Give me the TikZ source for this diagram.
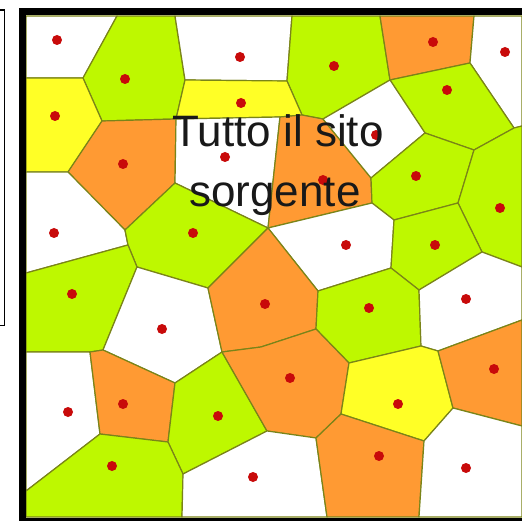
\documentclass[tikz,border=0pt]{standalone}
\usepackage{fontspec}
\newfontfamily\labelfont{Liberation Sans}
\definecolor{cellgreen}{HTML}{BEF800}
\definecolor{cellorange}{HTML}{FF9A33}
\definecolor{cellyellow}{HTML}{FFFF26}
\definecolor{sitered}{HTML}{C80A0A}
\definecolor{edgeline}{HTML}{7A8418}

\begin{document}
\begin{tikzpicture}[
    x=1pt, y=-1pt,
    cell/.style={draw=edgeline, line width=1.2pt, line join=round},
    gcell/.style={cell, fill=cellgreen},
    ocell/.style={cell, fill=cellorange},
    ycell/.style={cell, fill=cellyellow},
    wcell/.style={cell, fill=white},
    site/.style={circle, fill=sitered, minimum size=10pt, inner sep=0pt},
    caption/.style={font=\labelfont\fontsize{44}{50}\selectfont, text=black!90, anchor=base},
]

\useasboundingbox (0,0) rectangle (522,521);

% ── top row ──
\draw[wcell] (26,16) -- (117,16) -- (83,78) -- (26,78) -- cycle;
\draw[gcell] (117,16) -- (175,16) -- (185,80) -- (176,119) -- (102,121) -- (83,78) -- cycle;
\draw[wcell] (175,16) -- (292,16) -- (287,81) -- (185,80) -- cycle;
\draw[gcell] (292,16) -- (380,16) -- (390,80) -- (323,119) -- (302,115) -- (287,81) -- cycle;
\draw[ocell] (380,16) -- (474,16) -- (470,63) -- (390,80) -- cycle;
\draw[wcell] (474,16) -- (522,16) -- (522,126) -- (514,128) -- (470,63) -- cycle;

% ── upper middle ──
\draw[ycell] (26,78) -- (83,78) -- (102,121) -- (68,172) -- (26,172) -- cycle;
\draw[ycell] (185,80) -- (287,81) -- (302,115) -- (280,117) -- (176,119) -- cycle;
\draw[gcell] (390,80) -- (470,63) -- (514,128) -- (474,150) -- (425,133) -- cycle;
\draw[ocell] (102,121) -- (176,119) -- (175,183) -- (125,230) -- (68,172) -- cycle;
\draw[wcell] (176,119) -- (280,117) -- (268,228) -- (175,183) -- cycle;
\draw[ocell] (280,117) -- (302,115) -- (323,119) -- (371,178) -- (372,203) -- (268,228) -- cycle;
\draw[wcell] (323,119) -- (390,80) -- (425,133) -- (371,178) -- cycle;
\draw[gcell] (371,178) -- (425,133) -- (474,150) -- (458,203) -- (394,220) -- (372,203) -- cycle;
\draw[gcell] (474,150) -- (514,128) -- (522,126) -- (522,267) -- (482,252) -- (458,203) -- cycle;

% ── middle ──
\draw[wcell] (26,172) -- (68,172) -- (125,230) -- (128,245) -- (26,273) -- cycle;
\draw[gcell] (125,230) -- (175,183) -- (268,228) -- (208,288) -- (137,267) -- (128,245) -- cycle;
\draw[wcell] (268,228) -- (372,203) -- (394,220) -- (391,268) -- (318,291) -- cycle;
\draw[gcell] (394,220) -- (458,203) -- (482,252) -- (419,290) -- (391,268) -- cycle;
\draw[gcell] (26,273) -- (128,245) -- (137,267) -- (103,350) -- (90,352) -- (26,352) -- cycle;
\draw[wcell] (137,267) -- (208,288) -- (222,352) -- (175,383) -- (103,350) -- cycle;
\draw[ocell] (208,288) -- (268,228) -- (318,291) -- (316,329) -- (261,347) -- (222,352) -- cycle;
\draw[gcell] (318,291) -- (391,268) -- (419,290) -- (421,346) -- (349,363) -- (316,329) -- cycle;
\draw[wcell] (419,290) -- (482,252) -- (522,267) -- (522,320) -- (438,351) -- (421,346) -- cycle;

% ── bottom rows ──
\draw[wcell] (26,352) -- (90,352) -- (100,434) -- (26,491) -- cycle;
\draw[ocell] (90,352) -- (103,350) -- (175,383) -- (168,442) -- (100,434) -- cycle;
\draw[gcell] (175,383) -- (222,352) -- (267,431) -- (183,474) -- (168,442) -- cycle;
\draw[ocell] (222,352) -- (261,347) -- (316,329) -- (349,363) -- (341,414) -- (316,438) -- (267,431) -- cycle;
\draw[ycell] (349,363) -- (421,346) -- (438,351) -- (453,408) -- (424,441) -- (341,414) -- cycle;
\draw[ocell] (438,351) -- (522,320) -- (522,426) -- (453,408) -- cycle;
\draw[gcell] (26,491) -- (100,434) -- (168,442) -- (183,474) -- (182,517) -- (26,517) -- cycle;
\draw[wcell] (183,474) -- (267,431) -- (316,438) -- (327,517) -- (182,517) -- cycle;
\draw[ocell] (341,414) -- (424,441) -- (419,517) -- (327,517) -- (316,438) -- cycle;
\draw[wcell] (453,408) -- (522,426) -- (522,517) -- (419,517) -- (424,441) -- cycle;

% frames
\draw[line width=7pt] (22,12) rectangle (530,521.5);
\draw[line width=1.2pt] (-5,10) rectangle (4.5,325.5);

% sites
\foreach \x/\y [count=\i] in {57/40, 125/79, 240/57, 334/66, 433/42, 505/52,
    55/116, 241/103, 447/90, 123/164, 225/157, 323/180, 376/135, 416/176,
    500/208, 54/233, 193/233, 346/245, 435/245, 72/294, 265/304, 162/329,
    369/308, 466/299, 290/378, 398/404, 494/369, 68/412, 123/404, 112/466,
    218/416, 253/477, 379/456, 466/468}
    \node[site] (s-\i) at (\x,\y) {};

\node[caption] (title-top) at (278,147) {Tutto il sito};
\node[caption] (title-bottom) at (275,207) {sorgente};

\end{tikzpicture}
\end{document}
